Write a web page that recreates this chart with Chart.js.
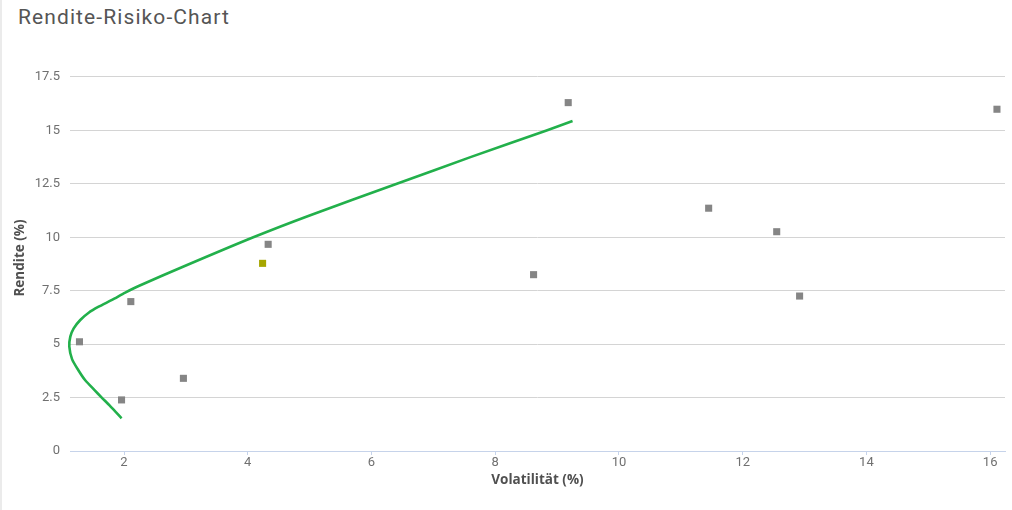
<!DOCTYPE html>
<html>
<head>
<meta charset="utf-8">
<script src="https://cdn.jsdelivr.net/npm/chart.js@4.4.1/dist/chart.umd.min.js"></script>
<style>
  html, body { margin: 0; padding: 0; background: #fff; }
  #wrap { position: relative; width: 1012px; height: 510px; box-shadow: inset 2px 0 0 #ebebeb; }
  #title { position: absolute; left: 18px; top: 5px; font-family: Roboto, sans-serif; font-size: 21px;
           color: #555; letter-spacing: 1.1px; }
  canvas { position: absolute; left: 0; top: 0; }
</style>
</head>
<body>
<div id="wrap">
  <div id="title">Rendite-Risiko-Chart</div>
  <canvas id="chart" width="1012" height="510"></canvas>
</div>
<script>
// tick labels
var xTicks = [2, 4, 6, 8, 10, 12, 14, 16];
var yTicks = [0, 2.5, 5, 7.5, 10, 12.5, 15, 17.5];

// single funds (volatility / return in %)
var fundVol = [1.28, 1.96, 2.11, 2.96, 4.33, 8.62, 9.18, 11.45, 12.55, 12.92, 16.11];
var fundRet = [5.11, 2.39, 6.99, 3.40, 9.67, 8.25, 16.30, 11.36, 10.26, 7.25, 15.99];

// current portfolio
var portVol = [4.24];
var portRet = [8.78];

// efficient frontier
var frontVol = [1.96, 1.77, 1.64, 1.52, 1.37, 1.26, 1.16, 1.116, 1.132, 1.187, 1.293, 1.429, 1.59, 1.806, 2.02, 2.237, 3.01, 4.09, 5.0, 6.41, 7.6, 8.83, 9.25];
var frontRet = [1.53, 2.12, 2.50, 2.86, 3.32, 3.79, 4.30, 4.88, 5.35, 5.74, 6.13, 6.47, 6.75, 7.07, 7.41, 7.72, 8.69, 10.00, 11.02, 12.50, 13.75, 15.00, 15.44];

function pts(xs, ys) {
    return xs.map(function (x, i) { return { x: x, y: ys[i] }; });
}

var ctx = document.getElementById("chart").getContext("2d");
var chart = new Chart(ctx, {
    type: 'scatter',
    data: {
        datasets: [{
            label: 'Fonds',
            data: pts(fundVol, fundRet),
            pointStyle: 'rect',
            pointRadius: 5,
            backgroundColor: '#858585',
            borderColor: '#858585',
            borderWidth: 0
        }, {
            label: 'Portfolio',
            data: pts(portVol, portRet),
            pointStyle: 'rect',
            pointRadius: 5,
            backgroundColor: '#a6a600',
            borderColor: '#a6a600',
            borderWidth: 0
        }, {
            label: 'Effizienzlinie',
            type: 'line',
            data: pts(frontVol, frontRet),
            showLine: true,
            clip: false,
            borderColor: '#22b04b',
            borderWidth: 2.6,
            tension: 0.25,
            pointRadius: 0,
            fill: false
        }]
    },
    options: {
        responsive: false,
        animation: false,
        layout: { padding: { top: 65, right: 7, bottom: 0, left: 0 } },
        plugins: {
            legend: { display: false },
            tooltip: { enabled: false }
        },
        scales: {
            x: {
                type: 'linear',
                min: 1.127,
                max: 16.24,
                afterBuildTicks: function (axis) {
                    axis.ticks = xTicks.map(function (v) { return { value: v }; });
                },
                afterFit: function (axis) { axis.height = 59; },
                grid: {
                    drawOnChartArea: false,
                    drawTicks: true,
                    tickLength: 4,
                    tickColor: '#c6d3ea'
                },
                border: { color: '#c6d3ea', width: 1 },
                ticks: {
                    padding: 0,
                    color: '#707070',
                    font: { family: 'Roboto', size: 13 },
                    maxRotation: 0
                },
                title: {
                    display: true,
                    text: 'Volatilität (%)',
                    color: '#505050',
                    font: { family: 'Open Sans', size: 13.5, weight: 'bold' },
                    padding: { top: 4, bottom: 22 }
                }
            },
            y: {
                type: 'linear',
                min: 0,
                max: 18.06,
                afterBuildTicks: function (axis) {
                    axis.ticks = yTicks.map(function (v) { return { value: v }; });
                },
                afterFit: function (axis) { axis.width = 70; },
                grid: {
                    color: '#d4d4d4',
                    lineWidth: 1,
                    drawTicks: false
                },
                border: { display: false },
                ticks: {
                    padding: 10,
                    color: '#707070',
                    font: { family: 'Roboto', size: 13 }
                },
                title: {
                    display: true,
                    text: 'Rendite (%)',
                    color: '#505050',
                    font: { family: 'Open Sans', size: 13.5, weight: 'bold' },
                    padding: { top: 12, bottom: 4 }
                }
            }
        }
    }
});
</script>
</body>
</html>
